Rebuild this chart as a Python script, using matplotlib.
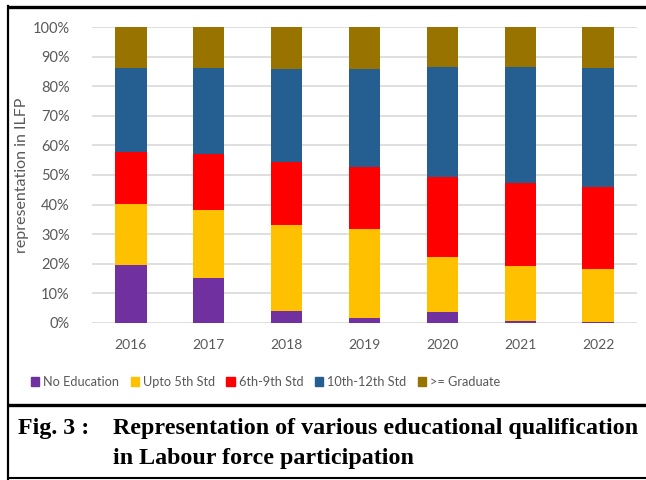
import matplotlib
matplotlib.use("Agg")
import matplotlib.pyplot as plt
from matplotlib.patches import Rectangle
from matplotlib.lines import Line2D
import numpy as np

years = ["2016", "2017", "2018", "2019", "2020", "2021", "2022"]
series_names = ["No Education", "Upto 5th Std", "6th-9th Std", "10th-12th Std", ">= Graduate"]
no_education = [19.5, 15.0, 4.1, 1.6, 3.5, 0.6, 0.2]
upto_5th = [20.6, 23.3, 29.0, 30.0, 18.7, 18.6, 18.1]
sixth_9th = [17.8, 18.8, 21.3, 21.2, 27.0, 28.1, 27.5]
tenth_12th = [28.4, 29.2, 31.4, 33.1, 37.3, 39.2, 40.3]
graduate = [13.7, 13.7, 14.2, 14.1, 13.5, 13.5, 13.9]
colors = ["#7030A0", "#FFC000", "#FF0000", "#255E91", "#997300"]
ytick_labels = ["0%", "10%", "20%", "30%", "40%", "50%", "60%", "70%", "80%", "90%", "100%"]
caption_1 = "Fig. 3 :"
caption_2 = "Representation of various educational qualification"
caption_3 = "in Labour force participation"

W, H = 646, 480
fig = plt.figure(figsize=(W / 100, H / 100), dpi=100)
fig.patch.set_facecolor("white")

ax_l, ax_r, ax_t, ax_b = 92, 637, 27.3, 322.7
ax = fig.add_axes([ax_l / W, (H - ax_b) / H, (ax_r - ax_l) / W, (ax_b - ax_t) / H])
data = np.array([no_education, upto_5th, sixth_9th, tenth_12th, graduate])
data = data / data.sum(axis=0) * 100
x = np.arange(len(years))
bottom = np.zeros(len(years))
for vals, name, c in zip(data, series_names, colors):
    ax.bar(x, vals, bottom=bottom, width=0.4, color=c, label=name, zorder=3)
    bottom += vals

ax.set_xlim(-0.5, len(years) - 0.5)
ax.set_ylim(0, 100)
ax.set_yticks(np.arange(0, 101, 10))
ax.set_yticklabels(ytick_labels)
ax.set_xticks(x)
ax.set_xticklabels(years)
ax.tick_params(axis="x", length=0, labelsize=10, labelcolor="#595959", pad=12)
ax.tick_params(axis="y", length=0, labelsize=10.5, labelcolor="#595959", pad=16)
for lbl in ax.get_xticklabels() + ax.get_yticklabels():
    lbl.set_family("Lato")
ax.grid(axis="y", color="#d9d9d9", linewidth=1.2, zorder=0)
for s in ax.spines.values():
    s.set_visible(False)
ax.set_ylabel("representation in ILFP", fontsize=11.5, color="#595959", family="Lato")
ax.yaxis.set_label_coords((29 - ax_l) / (ax_r - ax_l), 0.5)

handles = [Rectangle((0, 0), 1, 1, color=c) for c in colors]
leg = fig.legend(handles, series_names, loc="center left", bbox_to_anchor=(31 / W, (H - 382) / H),
                 ncol=5, frameon=False, prop={"family": "Lato", "size": 9.2}, borderpad=0,
                 borderaxespad=0, handlelength=0.65, handleheight=0.65, handletextpad=0.3,
                 columnspacing=0.9)
for t in leg.get_texts():
    t.set_color("#595959")

# frame lines
def hline(y, lw):
    fig.add_artist(Line2D([7 / W, 1.0], [1 - y / H, 1 - y / H], color="black", linewidth=lw,
                          transform=fig.transFigure, solid_capstyle="butt"))

hline(6.5, 2.4)
hline(405, 2.4)
hline(477.5, 1.5)
fig.add_artist(Line2D([8 / W, 8 / W], [1 - 5.5 / H, 1 - 478.5 / H], color="black", linewidth=1.6,
                      transform=fig.transFigure))

cap_kw = dict(family="Liberation Serif", weight="bold", fontsize=17.3, color="black",
              va="baseline", ha="left")
fig.text(18 / W, 1 - 434 / H, caption_1, **cap_kw)
fig.text(113 / W, 1 - 434 / H, caption_2, **cap_kw)
fig.text(113 / W, 1 - 464 / H, caption_3, **cap_kw)

fig.savefig("out.png", dpi=100)
